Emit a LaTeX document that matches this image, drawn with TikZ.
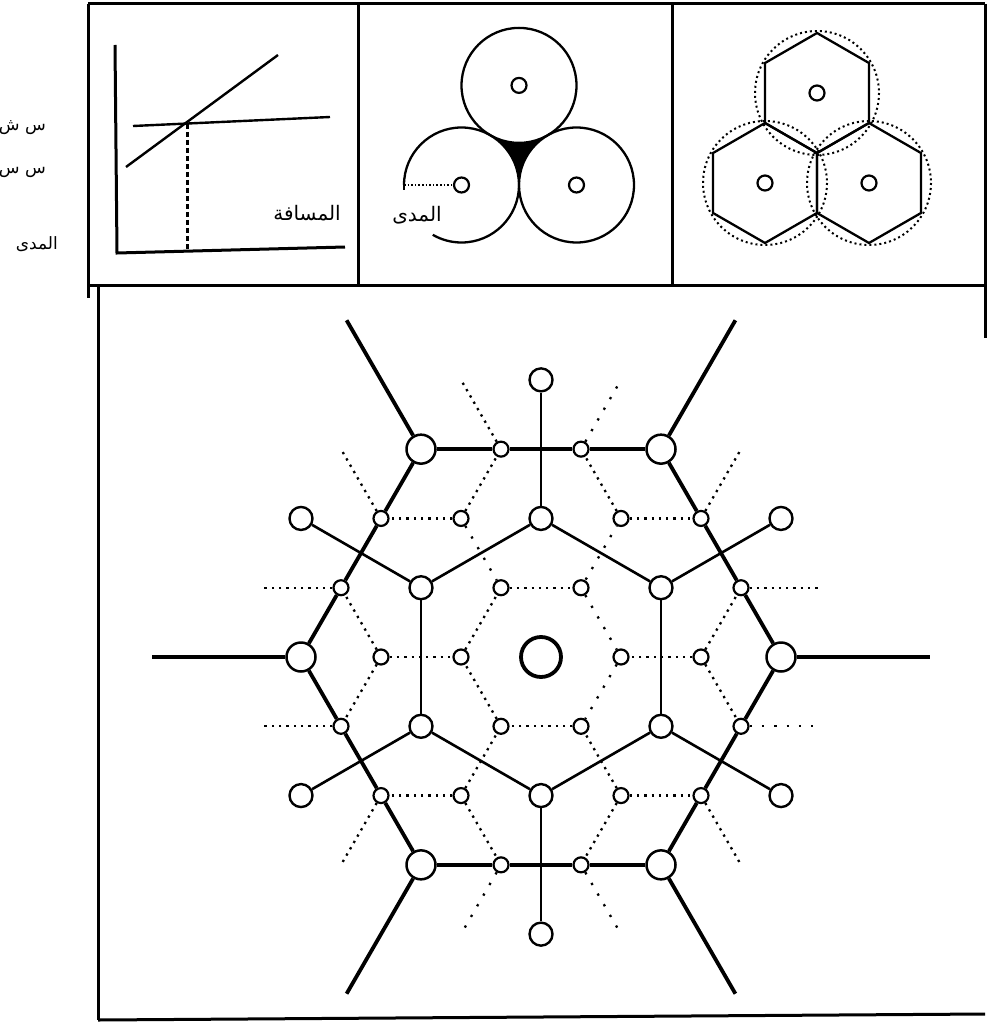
\documentclass[tikz,border=0pt]{standalone}
\usepackage{fontspec}
\newfontfamily\arabicfont[Script=Arabic]{DejaVu Sans}
\TeXXeTstate=1
\begin{document}
\begin{tikzpicture}[x=1pt,y=-1pt,
  frame/.style={line width=3pt},
  sm/.style={circle,draw,fill=white,line width=2.2pt,minimum size=15pt,inner sep=0pt},
  md/.style={circle,draw,fill=white,line width=2.4pt,minimum size=23pt,inner sep=0pt},
  lg/.style={circle,draw,fill=white,line width=2.5pt,minimum size=29pt,inner sep=0pt},
  ctr/.style={circle,draw,fill=white,line width=3.8pt,minimum size=40pt,inner sep=0pt},
  pc/.style={circle,draw,fill=white,line width=2.2pt,minimum size=15pt,inner sep=0pt},
  heavy/.style={line width=3.8pt},
  medium/.style={line width=2.6pt},
  dots/.style={line width=2.3pt,dash pattern=on 2.3pt off 5pt},
  sparse/.style={line width=2.3pt,dash pattern=on 2.3pt off 10pt},
  ringdots/.style={line width=2pt,dash pattern=on 2pt off 3pt},
  lab/.style={font=\arabicfont\fontsize{20}{24}\selectfont,inner sep=0pt},
  slab/.style={font=\arabicfont\fontsize{17}{20}\selectfont,inner sep=0pt}
]
\useasboundingbox (0,0) rectangle (987,1024);

% ---------- frames ----------
\draw[frame] (88,4) -- (985,4);
\draw[frame] (88,4) -- (88,298);
\draw[frame] (358,4) -- (358,285);
\draw[frame] (672,4) -- (672,285);
\draw[frame] (985,4) -- (985,338);
\draw[frame] (88,285) -- (985,285);
\draw[frame] (98,285) -- (98,1020);
\draw[frame] (98,1020) -- (985,1014);

% ---------- left labels ----------
\node[slab,anchor=east] (labA) at (46,128) {\beginR س ش\endR};
\node[slab,anchor=east] (labB) at (46,172) {\beginR س س\endR};
\node[slab,anchor=east] (labC) at (58,244) {\beginR المدى\endR};

% ---------- top-left graph ----------
\draw[line width=3pt] (115,45) -- (117,253) -- (345,247);
\draw[line width=2.4pt] (133,126) -- (330,117);
\draw[line width=2.4pt] (126,167) -- (278,55);
\draw[line width=3pt,dash pattern=on 5pt off 3pt] (187,124) -- (187,250);
\node[lab] (labD) at (307,213) {\beginR المسافة\endR};

% ---------- top-middle: circles ----------
\coordinate (ct) at (519,85.4);
\coordinate (cl) at (461.5,185);
\coordinate (cr) at (576.5,185);
\draw[line width=2.3pt] (ct) circle[radius=57.5];
\draw[line width=2.3pt] (cr) circle[radius=57.5];
\draw[line width=2.3pt] (cl) ++(180:57.5) arc[start angle=180,end angle=480,radius=57.5];
\fill (490.25,135.2) arc[start angle=120,end angle=60,radius=57.5]
      arc[start angle=240,end angle=180,radius=57.5]
      arc[start angle=0,end angle=-60,radius=57.5] -- cycle;
\node[pc] (pt) at (ct) {};
\node[pc] (pl) at (cl) {};
\node[pc] (pr) at (cr) {};
\coordinate (rr) at (404,185);
\draw[line width=1.6pt,dash pattern=on 1.6pt off 2pt] (rr) -- (pl);
\draw[line width=1.6pt] (404,180) -- (404,190);
\node[lab] (labE) at (417,215) {\beginR المدى\endR};

% ---------- top-right: hexagons ----------
\foreach \c/\n in {{(817,93)}/ha,{(765,183)}/hb,{(869,183)}/hc}{
  \draw[line width=2.3pt] \c +(30:60) -- +(90:60) -- +(150:60) -- +(210:60) -- +(270:60) -- +(330:60) -- cycle;
  \draw[ringdots] \c circle[radius=62];
  \node[pc] (\n) at \c {};
}

% ---------- main lattice ----------
\begin{scope}[shift={(541,657)},x={(80pt,0pt)},y={(40pt,69.282pt)}]
  \node[ctr] (c0) at (0,0) {};
  % inner small ring
  \node[sm] (E) at (-1,1) {};
  \node[sm] (F) at (0,1) {};
  \node[sm] (I) at (1,0) {};
  \node[sm] (L) at (1,-1) {};
  \node[sm] (K) at (0,-1) {};
  \node[sm] (H) at (-1,0) {};
  % second small ring
  \node[sm] (A) at (-2,2) {};
  \node[sm] (B) at (0,2) {};
  \node[sm] (J) at (2,0) {};
  \node[sm] (N) at (2,-2) {};
  \node[sm] (M) at (0,-2) {};
  \node[sm] (G) at (-2,0) {};
  % small nodes on outer hexagon
  \node[sm] (t1) at (-2,3) {};
  \node[sm] (t2) at (-1,3) {};
  \node[sm] (r1) at (1,2) {};
  \node[sm] (r2) at (2,1) {};
  \node[sm] (r3) at (3,-1) {};
  \node[sm] (r4) at (3,-2) {};
  \node[sm] (b1) at (2,-3) {};
  \node[sm] (b2) at (1,-3) {};
  \node[sm] (l1) at (-1,-2) {};
  \node[sm] (l2) at (-2,-1) {};
  \node[sm] (l3) at (-3,1) {};
  \node[sm] (l4) at (-3,2) {};
  % large nodes
  \node[lg] (g1) at (-3,3) {};
  \node[lg] (g2) at (0,3) {};
  \node[lg] (g3) at (3,0) {};
  \node[lg] (g4) at (3,-3) {};
  \node[lg] (g5) at (0,-3) {};
  \node[lg] (g6) at (-3,0) {};
  % inner hexagon
  \node[md] (h1) at (-1,2) {};
  \node[md] (h2) at (1,1) {};
  \node[md] (h3) at (2,-1) {};
  \node[md] (h4) at (1,-2) {};
  \node[md] (h5) at (-1,-1) {};
  \node[md] (h6) at (-2,1) {};
  % satellites
  \node[md] (s1) at (-2,4) {};
  \node[md] (s2) at (2,2) {};
  \node[md] (s3) at (4,-2) {};
  \node[md] (s4) at (2,-4) {};
  \node[md] (s5) at (-2,-2) {};
  \node[md] (s6) at (-4,2) {};
  % free ends
  \coordinate (d1) at (-4,3);
  \coordinate (d2) at (-3,4);
  \coordinate (d3) at (-1,4);
  \coordinate (d4) at (1,3);
  \coordinate (d5) at (3,1);
  \coordinate (d6) at (4,-1);
  \coordinate (d7) at (4,-3);
  \coordinate (d8) at (3,-4);
  \coordinate (d9) at (1,-4);
  \coordinate (d10) at (-1,-3);
  \coordinate (d11) at (-3,-1);
  \coordinate (d12) at (-4,1);
  \coordinate (e1) at (-4.86,4.86);
  \coordinate (e2) at (0,4.86);
  \coordinate (e3) at (4.86,0);
  \coordinate (e4) at (4.86,-4.86);
  \coordinate (e5) at (0,-4.86);
  \coordinate (e6) at (-4.86,0);
\end{scope}

% outer hexagon (heavy)
\draw[heavy] (g1) -- (t1); \draw[heavy] (t1) -- (t2); \draw[heavy] (t2) -- (g2);
\draw[heavy] (g2) -- (r1); \draw[heavy] (r1) -- (r2); \draw[heavy] (r2) -- (g3);
\draw[heavy] (g3) -- (r3); \draw[heavy] (r3) -- (r4); \draw[heavy] (r4) -- (g4);
\draw[heavy] (g4) -- (b1); \draw[heavy] (b1) -- (b2); \draw[heavy] (b2) -- (g5);
\draw[heavy] (g5) -- (l1); \draw[heavy] (l1) -- (l2); \draw[heavy] (l2) -- (g6);
\draw[heavy] (g6) -- (l3); \draw[heavy] (l3) -- (l4); \draw[heavy] (l4) -- (g1);
% radial lines
\draw[heavy] (g1) -- (e1); \draw[heavy] (g2) -- (e2); \draw[heavy] (g3) -- (e3);
\draw[heavy] (g4) -- (e4); \draw[heavy] (g5) -- (e5); \draw[heavy] (g6) -- (e6);
% inner hexagon
\draw[medium] (h1) -- (h2); \draw[medium] (h2) -- (h3); \draw[medium] (h3) -- (h4);
\draw[medium] (h4) -- (h5); \draw[medium] (h5) -- (h6); \draw[medium] (h6) -- (h1);
% spokes
\draw[medium] (h1) -- (s1); \draw[medium] (h2) -- (s2); \draw[medium] (h3) -- (s3);
\draw[medium] (h4) -- (s4); \draw[medium] (h5) -- (s5); \draw[medium] (h6) -- (s6);

% dotted honeycomb
\draw[dots] (E) -- (F); \draw[sparse] (F) -- (I); \draw[sparse] (I) -- (L);
\draw[dots] (L) -- (K); \draw[dots] (K) -- (H); \draw[dots] (H) -- (E);
\draw[dots] (A) -- (l4); \draw[dots] (A) -- (t1); \draw[sparse] (A) -- (E);
\draw[dots] (B) -- (r1); \draw[dots] (B) -- (t2); \draw[sparse,dash phase=14pt] (B) -- (F);
\draw[dots] (J) -- (I); \draw[dots] (J) -- (r3); \draw[dots] (J) -- (r2);
\draw[dots] (N) -- (L); \draw[dots] (N) -- (r4); \draw[dots] (N) -- (b1);
\draw[dots] (M) -- (K); \draw[dots] (M) -- (l1); \draw[dots] (M) -- (b2);
\draw[dots] (G) -- (H); \draw[dots] (G) -- (l3); \draw[dots] (G) -- (l2);
% dotted stubs
\draw[dots] (l4) -- (d1); \draw[dots] (t1) -- (d2); \draw[sparse] (t2) -- (d3);
\draw[dots] (r1) -- (d4); \draw[dots] (r2) -- (d5); \draw[sparse] (r3) -- (d6);
\draw[dots] (r4) -- (d7); \draw[sparse] (b1) -- (d8); \draw[sparse] (b2) -- (d9);
\draw[dots] (l1) -- (d10); \draw[dots] (l2) -- (d11); \draw[dots] (l3) -- (d12);
\end{tikzpicture}
\end{document}
